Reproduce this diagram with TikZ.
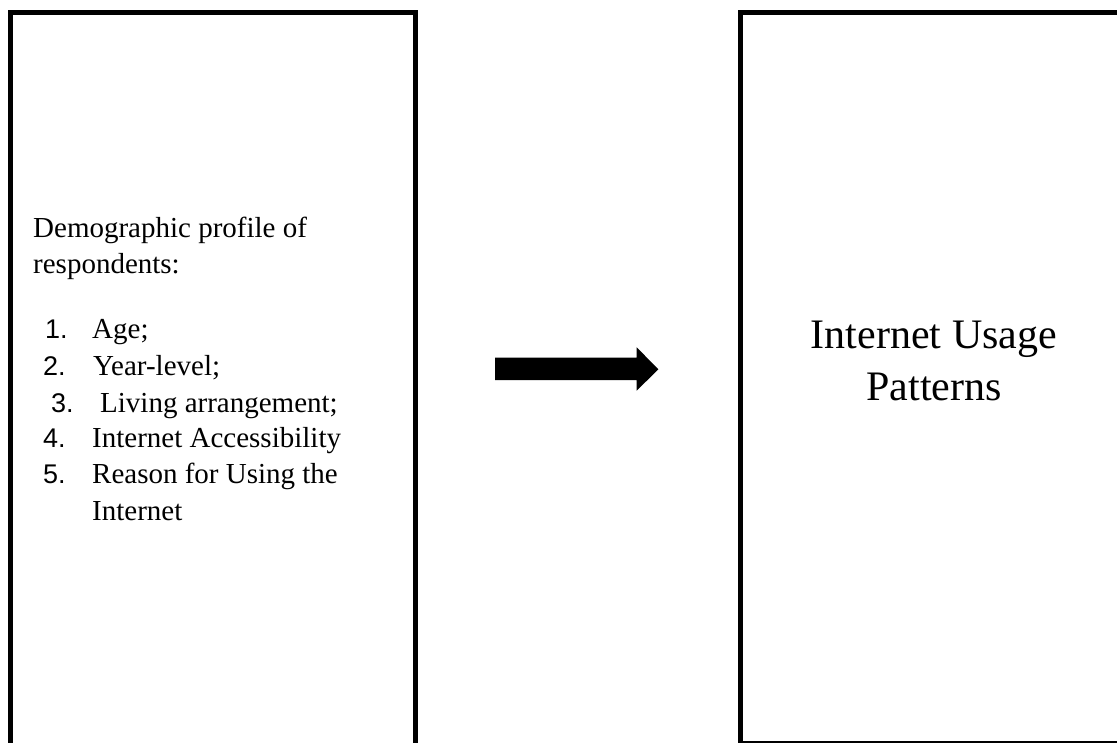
\documentclass[tikz,border=0pt]{standalone}
\usepackage{fontspec}
\setmainfont{Liberation Serif}
\newfontfamily\numfont{Liberation Sans}
\begin{document}
\begin{tikzpicture}[x=1pt,y=-1pt,
  boxline/.style={draw=black,line width=5pt},
  bodytext/.style={anchor=base west,inner sep=0pt,font=\fontsize{29}{34}\selectfont},
  numtext/.style={anchor=base west,inner sep=0pt,font=\numfont\fontsize{27}{32}\selectfont},
  bigtext/.style={anchor=base,inner sep=0pt,font=\fontsize{42}{48}\selectfont}]
\useasboundingbox (0,0) rectangle (1117,742);
% boxes (left box runs past the bottom, right box past the right edge)
\draw[boxline] (10.3,770) -- (10.3,12.5) -- (415.2,12.5) -- (415.2,770);
\draw[boxline] (1140,12.5) -- (740.8,12.5) -- (740.8,743.5) -- (1140,743.5);
% left text
\node[bodytext] (d1) at (33,237) {Demographic profile of};
\node[bodytext] (d2) at (33,273) {respondents:};
\node[numtext] (n1) at (45,338) {1.};
\node[bodytext] (t1) at (92,338) {Age;};
\node[numtext] (n2) at (43,375) {2.};
\node[bodytext] (t2) at (93,375) {Year-level;};
\node[numtext] (n3) at (51,412) {3.};
\node[bodytext] (t3) at (100,412) {Living arrangement;};
\node[numtext] (n4) at (43,447) {4.};
\node[bodytext] (t4) at (92,447) {Internet Accessibility};
\node[numtext] (n5) at (43,483) {5.};
\node[bodytext] (t5) at (92,483) {Reason for Using the};
\node[bodytext] (t6) at (92,520) {Internet};
% right text
\node[bigtext] (r1) at (934,348) {Internet Usage};
\node[bigtext] (r2) at (934,400) {Patterns};
% block arrow
\coordinate (arrtip) at (658.3,369.3);
\fill[black] (495,357.7) -- (636.7,357.7) -- (636.7,347.3) -- (arrtip)
  -- (636.7,390.7) -- (636.7,380) -- (495,380) -- cycle;
\end{tikzpicture}
\end{document}
